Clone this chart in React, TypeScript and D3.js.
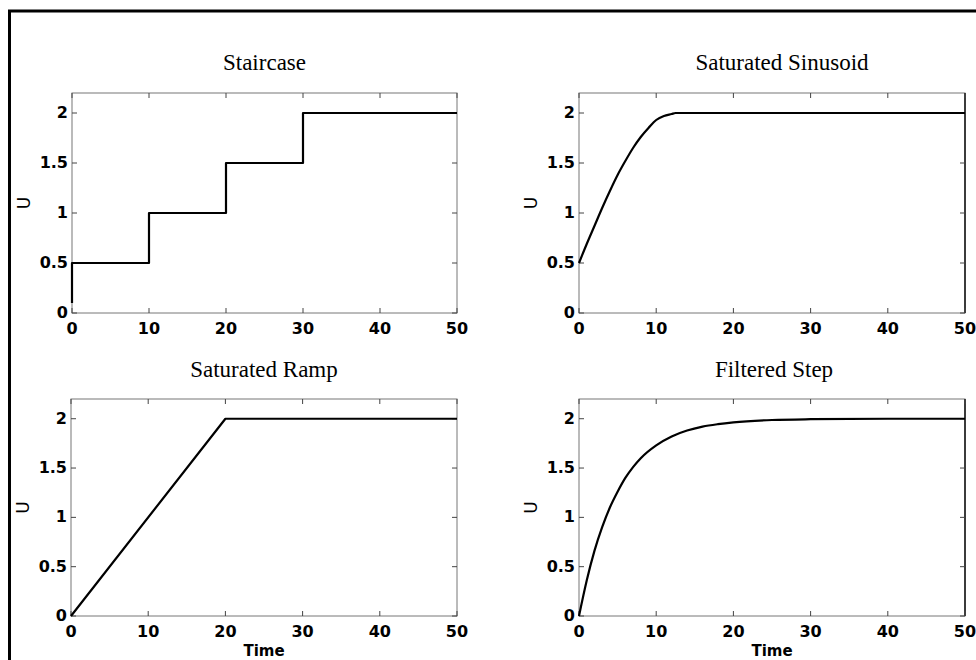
import React from "react";
import * as d3 from "d3";

// ---- data ----
const xTicks = [0, 10, 20, 30, 40, 50];
const yTicks = [0, 0.5, 1, 1.5, 2];
const yTickLabels = ["0", "0.5", "1", "1.5", "2"];

const titles = ["Staircase", "Saturated Sinusoid", "Saturated Ramp", "Filtered Step"];

const stairT = [0, 0, 10, 10, 20, 20, 30, 30, 50];
const stairU = [0.1, 0.5, 0.5, 1, 1, 1.5, 1.5, 2, 2];

const sinT = [0, 1, 2, 3, 4, 5, 6, 7, 8, 9, 10, 11, 12, 12.5, 50];
const sinU = [0.5, 0.69, 0.87, 1.05, 1.22, 1.38, 1.52, 1.65, 1.76, 1.85, 1.93, 1.97, 1.99, 2, 2];

const rampT = [0, 20, 50];
const rampU = [0, 2, 2];

const stepT = [0, 1, 2, 3, 4, 5, 6, 7, 8, 10, 12, 14, 16, 18, 20, 25, 30, 40, 50];
const stepU = [0, 0.36, 0.66, 0.9, 1.1, 1.26, 1.4, 1.51, 1.6, 1.73, 1.82, 1.88, 1.92, 1.945, 1.963, 1.987, 1.995, 2, 2];

const seriesT = [stairT, sinT, rampT, stepT];
const seriesU = [stairU, sinU, rampU, stepU];

// ---- layout ----
const W = 976;
const H = 660;
const panels = [
  { l: 72, r: 457, t: 93, b: 313, titleY: 70, titleDx: 0, xlabel: false },
  { l: 579, r: 965, t: 93, b: 313, titleY: 70, titleDx: 10, xlabel: false },
  { l: 71, r: 457, t: 399, b: 616, titleY: 377, titleDx: 0, xlabel: true },
  { l: 579, r: 965, t: 399, b: 616, titleY: 377, titleDx: 2, xlabel: true },
];

const sans = "'DejaVu Sans', 'Liberation Sans', Arial, sans-serif";
const serif = "'Liberation Serif', 'Times New Roman', serif";

function Panel({ idx }: { idx: number }) {
  const p = panels[idx];
  const x = d3.scaleLinear().domain([0, 50]).range([p.l, p.r]);
  const y = d3.scaleLinear().domain([0, 2.2]).range([p.b, p.t]);
  const T = seriesT[idx];
  const U = seriesU[idx];
  const pts: [number, number][] = T.map((t, i) => [t, U[i]]);
  const line = d3
    .line<[number, number]>()
    .x((d) => x(d[0]))
    .y((d) => y(d[1]))
    .curve(idx === 1 || idx === 3 ? d3.curveMonotoneX : d3.curveLinear);
  const tl = 5;
  const midY = (p.t + p.b) / 2;
  return (
    <g>
      <text
        x={(p.l + p.r) / 2 + p.titleDx}
        y={p.titleY}
        textAnchor="middle"
        fontFamily={serif}
        fontSize={23}
        fill="#000"
      >
        {titles[idx]}
      </text>
      <rect x={p.l} y={p.t} width={p.r - p.l} height={p.b - p.t} fill="none" stroke="#777" strokeWidth={1} />
      {idx % 2 === 1 && <line x1={p.r} x2={p.r} y1={p.t} y2={p.b} stroke="#111" strokeWidth={1.5} />}
      {xTicks.map((v) => (
        <g key={"x" + v}>
          <line x1={x(v)} x2={x(v)} y1={p.b} y2={p.b - tl} stroke="#444" />
          <line x1={x(v)} x2={x(v)} y1={p.t} y2={p.t + tl} stroke="#444" />
          <text
            x={x(v)}
            y={p.b + 21}
            textAnchor="middle"
            fontFamily={sans}
            fontWeight="bold"
            fontSize={16}
            fill="#000"
          >
            {v}
          </text>
        </g>
      ))}
      {yTicks.map((v, i) => (
        <g key={"y" + v}>
          <line x1={p.l} x2={p.l + tl} y1={y(v)} y2={y(v)} stroke="#444" />
          <line x1={p.r} x2={p.r - tl} y1={y(v)} y2={y(v)} stroke="#444" />
          <text
            x={p.l - 4}
            y={y(v) + 5}
            textAnchor="end"
            fontFamily={sans}
            fontWeight="bold"
            fontSize={16}
            fill="#000"
          >
            {yTickLabels[i]}
          </text>
        </g>
      ))}
      <text
        transform={`translate(${p.l - 42},${midY}) rotate(-90)`}
        textAnchor="middle"
        fontFamily={sans}
        fontSize={17}
        fill="#000"
      >
        U
      </text>
      {p.xlabel && (
        <text
          x={(p.l + p.r) / 2}
          y={656}
          textAnchor="middle"
          fontFamily={sans}
          fontWeight="bold"
          fontSize={15}
          fill="#000"
        >
          Time
        </text>
      )}
      <path d={line(pts) || ""} fill="none" stroke="#000" strokeWidth={2.2} strokeLinejoin="round" />
    </g>
  );
}

export default function App() {
  return (
    <svg
      width={W}
      height={H}
      viewBox={`0 0 ${W} ${H}`}
      style={{ position: "absolute", left: 0, top: 0, background: "#fff" }}
    >
      <rect x={0} y={0} width={W} height={H} fill="#fff" />
      <line x1={9.5} x2={9.5} y1={10} y2={H} stroke="#000" strokeWidth={3} />
      <line x1={8} x2={W} y1={11} y2={11} stroke="#000" strokeWidth={3} />
      {panels.map((_, i) => (
        <Panel key={i} idx={i} />
      ))}
    </svg>
  );
}
